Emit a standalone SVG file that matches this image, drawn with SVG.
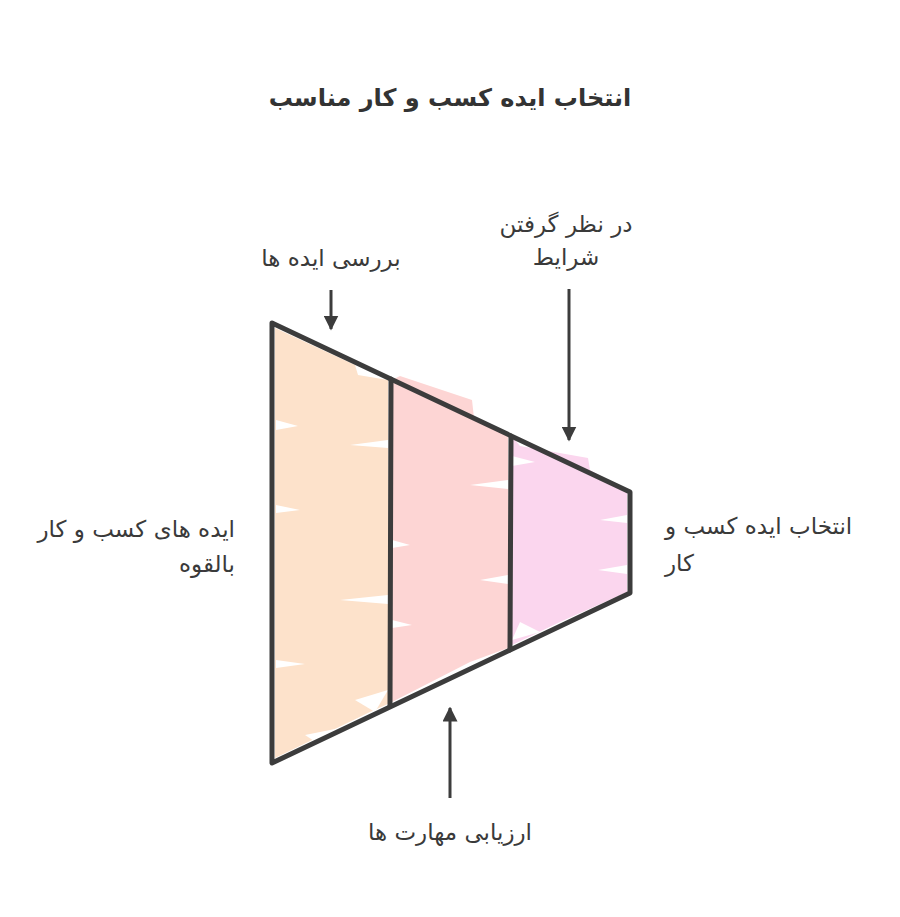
<svg xmlns="http://www.w3.org/2000/svg" width="900" height="917" viewBox="0 0 900 917">
<defs>
<style>
.lbl{font-family:"DejaVu Sans",sans-serif;font-size:23px;fill:#3a3a3a}
.title{font-family:"DejaVu Sans",sans-serif;font-size:24px;font-weight:bold;fill:#333}
.edge{fill:none;stroke:#3c3c3c;stroke-width:5;stroke-linecap:round;stroke-linejoin:round}
.arr{fill:none;stroke:#3c3c3c;stroke-width:3;marker-end:url(#ah)}
</style>
<marker id="ah" viewBox="0 0 10 10" refX="9" refY="5" markerWidth="5" markerHeight="5" orient="auto" markerUnits="strokeWidth">
<path d="M0,0 L10,5 L0,10 z" fill="#3c3c3c"/>
</marker>
</defs>
<rect width="900" height="917" fill="#fff"/>
<text class="title" x="450" y="106" text-anchor="middle">انتخاب ایده کسب و کار مناسب</text>

<g id="stage1">
<polygon points="275,328 355,365 358,375 388,380 388,704 370,712 275,758" fill="#fde2cb"/>
<polygon points="276,420 298,426 276,430" fill="#fff"/>
<polygon points="276,505 300,510 276,513" fill="#fff"/>
<polygon points="276,660 305,664 276,668" fill="#fff"/>
<polygon points="388,440 350,445 388,448" fill="#fff"/>
<polygon points="388,595 340,600 388,604" fill="#fff"/>
<polygon points="388,690 355,700 375,712" fill="#fff"/>
<polygon points="305,735 360,724 320,745" fill="#fff"/>
</g>
<g id="stage2">
<polygon points="392,380 400,376 472,400 474,418 508,436 508,648 470,662 392,702" fill="#fdd5d4"/>
<polygon points="392,540 410,545 392,548" fill="#fff"/>
<polygon points="392,620 412,625 392,628" fill="#fff"/>
<polygon points="508,480 470,485 508,489" fill="#fff"/>
<polygon points="508,575 480,580 508,584" fill="#fff"/>
</g>
<g id="stage3">
<polygon points="512,436 520,446 588,458 590,470 627,490 627,592 560,622 512,645" fill="#fbd6ee"/>
<polygon points="512,456 535,462 512,466" fill="#fff"/>
<polygon points="627,515 600,520 627,523" fill="#fff"/>
<polygon points="627,565 598,570 627,574" fill="#fff"/>
<polygon points="512,640 540,632 520,622" fill="#fff"/>
</g>

<g id="funnel-outline">
<path class="edge" d="M272,323 L630,492 L630,593 L272,763 Z"/>
<path class="edge" d="M391,379 L390,706"/>
<path class="edge" d="M511,436 L510,650"/>
</g>

<g id="connectors">
<path class="arr" d="M331,290 L331,329"/>
<path class="arr" d="M569,289 L569,440"/>
<path class="arr" d="M450,798 L450,708"/>
</g>

<g id="label-top1"><text class="lbl" x="331" y="266" text-anchor="middle">بررسی ایده ها</text></g>
<g id="label-top2">
<text class="lbl" x="566" y="232" text-anchor="middle">در نظر گرفتن</text>
<text class="lbl" x="566" y="265" text-anchor="middle">شرایط</text>
</g>
<g id="label-left">
<text class="lbl" x="235" y="537" text-anchor="end">ایده های کسب و کار</text>
<text class="lbl" x="235" y="572" text-anchor="end">بالقوه</text>
</g>
<g id="label-right">
<text class="lbl" x="665" y="534" text-anchor="start">انتخاب ایده کسب و</text>
<text class="lbl" x="665" y="571" text-anchor="start">کار</text>
</g>
<g id="label-bottom"><text class="lbl" x="450" y="840" text-anchor="middle">ارزیابی مهارت ها</text></g>
</svg>
